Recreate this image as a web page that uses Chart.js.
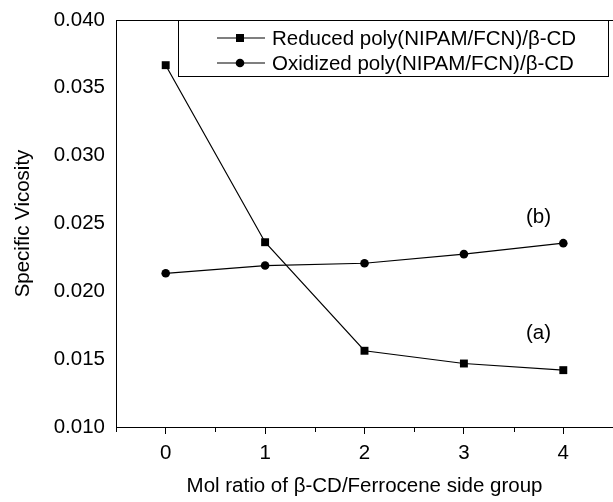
<!DOCTYPE html>
<html>
<head>
<meta charset="utf-8">
<script src="https://cdn.jsdelivr.net/npm/chart.js@4"></script>
<style>
  html, body { margin: 0; padding: 0; background: #fff; }
  #wrap { width: 613px; height: 502px; }
</style>
</head>
<body>
<div id="wrap"><canvas id="viscChart" width="613" height="502"></canvas></div>
<script>
// mol ratio of beta-CD / ferrocene side group
const ratios = [0, 1, 2, 3, 4];
const reducedVisc = [0.03667, 0.02362, 0.01562, 0.01468, 0.01419];
const oxidizedVisc = [0.02133, 0.0219, 0.02207, 0.02274, 0.02355];
const seriesNames = ['Reduced poly(NIPAM/FCN)/\u03b2-CD', 'Oxidized poly(NIPAM/FCN)/\u03b2-CD'];
const curveTags = [{ text: '(a)', x: 3.75, y: 0.01692 }, { text: '(b)', x: 3.75, y: 0.02542 }];

const FONT = 'Liberation Sans, Arial, Helvetica, sans-serif';
const FSIZE = 20.5;

function toPoints(xs, ys) {
    return xs.map((x, i) => ({ x: x, y: ys[i] }));
}

// frame, minor ticks, curve tags and the boxed legend
const decorations = {
    id: 'decorations',
    afterDraw(chart) {
        const ctx = chart.ctx;
        const area = chart.chartArea;
        const xs = chart.scales.x;
        const ys = chart.scales.y;
        ctx.save();
        ctx.strokeStyle = '#000';
        ctx.lineWidth = 1;

        // top border of the frame
        ctx.beginPath();
        ctx.moveTo(area.left, area.top + 0.5);
        ctx.lineTo(chart.width, area.top + 0.5);
        ctx.stroke();

        // minor ticks at half units
        for (let v = -0.5; v <= 4.5; v += 1) {
            const px = Math.round(xs.getPixelForValue(v)) + 0.5;
            ctx.beginPath();
            ctx.moveTo(px, area.bottom);
            ctx.lineTo(px, area.bottom + 5);
            ctx.stroke();
        }

        ctx.fillStyle = '#000';
        ctx.font = FSIZE + 'px ' + FONT;
        ctx.textAlign = 'center';
        ctx.textBaseline = 'middle';
        curveTags.forEach(t => {
            ctx.fillText(t.text, xs.getPixelForValue(t.x), ys.getPixelForValue(t.y));
        });

        // legend box
        const bx = 178, by = area.top + 0.5, bw = 430, bh = 56;
        ctx.fillStyle = '#fff';
        ctx.fillRect(bx, by, bw, bh);
        ctx.strokeRect(bx + 0.5, by, bw, bh);
        const rows = [38, 63];
        const styles = ['rect', 'circle'];
        rows.forEach((ry, i) => {
            ctx.beginPath();
            ctx.moveTo(217, ry);
            ctx.lineTo(265, ry);
            ctx.lineWidth = 1.2;
            ctx.stroke();
            ctx.fillStyle = '#000';
            if (styles[i] === 'rect') {
                ctx.fillRect(236, ry - 4, 8, 8);
            } else {
                ctx.beginPath();
                ctx.arc(240, ry, 4.3, 0, Math.PI * 2);
                ctx.fill();
            }
            ctx.textAlign = 'left';
            ctx.fillText(seriesNames[i], 272, ry + 1);
        });
        ctx.restore();
    }
};

const ctxVisc = document.getElementById('viscChart').getContext('2d');
window.viscChart = new Chart(ctxVisc, {
    type: 'scatter',
    data: {
        datasets: [{
            label: seriesNames[0],
            data: toPoints(ratios, reducedVisc),
            showLine: true,
            borderColor: '#000',
            backgroundColor: '#000',
            borderWidth: 1.2,
            pointStyle: 'rect',
            pointRadius: 5.6,
            pointBorderWidth: 0
        }, {
            label: seriesNames[1],
            data: toPoints(ratios, oxidizedVisc),
            showLine: true,
            borderColor: '#000',
            backgroundColor: '#000',
            borderWidth: 1.2,
            pointStyle: 'circle',
            pointRadius: 4.3,
            pointBorderWidth: 0
        }]
    },
    options: {
        responsive: false,
        animation: false,
        layout: { autoPadding: false, padding: { top: 20, right: 0, left: 0, bottom: 0 } },
        plugins: {
            legend: { display: false },
            tooltip: { enabled: false }
        },
        scales: {
            x: {
                type: 'linear',
                min: -0.5,
                max: 4.5,
                afterBuildTicks: scale => {
                    scale.ticks = ratios.map(v => ({ value: v }));
                },
                afterFit: scale => {
                    scale.height = 75;
                    scale.paddingRight = 0;
                    scale.paddingLeft = 0;
                },
                ticks: {
                    color: '#000',
                    font: { family: FONT, size: FSIZE },
                    padding: 7,
                    maxRotation: 0
                },
                grid: {
                    drawOnChartArea: false,
                    drawTicks: true,
                    tickLength: 7,
                    color: '#000'
                },
                border: { display: true, color: '#000', width: 1 },
                title: {
                    display: true,
                    text: 'Mol ratio of \u03b2-CD/Ferrocene side group',
                    color: '#000',
                    font: { family: FONT, size: FSIZE },
                    padding: { top: 0, bottom: 3 }
                }
            },
            y: {
                type: 'linear',
                min: 0.010,
                max: 0.040,
                afterFit: scale => { scale.width = 116; },
                ticks: {
                    stepSize: 0.005,
                    color: '#000',
                    font: { family: FONT, size: FSIZE },
                    padding: 3,
                    callback: v => v.toFixed(3)
                },
                grid: { display: false },
                border: { display: true, color: '#000', width: 1 },
                title: {
                    display: true,
                    text: 'Specific Vicosity',
                    color: '#000',
                    font: { family: FONT, size: FSIZE },
                    padding: { top: 11, bottom: 0 }
                }
            }
        }
    },
    plugins: [decorations]
});
</script>
</body>
</html>
